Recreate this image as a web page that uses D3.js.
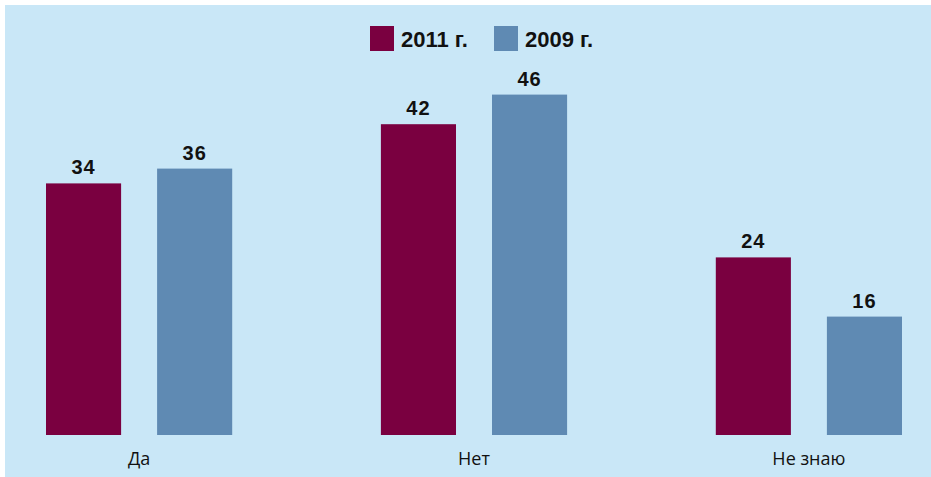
<!DOCTYPE html>
<html>
<head>
<meta charset="utf-8">
<script src="https://cdn.jsdelivr.net/npm/d3@7"></script>
<style>
  html, body { margin: 0; padding: 0; background: #fff; }
  svg { display: block; }
</style>
</head>
<body>
<div id="chart"></div>
<script>
// data
var categories = ["Да", "Нет", "Не знаю"];
var seriesNames = ["2011 г.", "2009 г."];
var values2011 = [34, 42, 24];
var values2009 = [36, 46, 16];
var colors = ["#7a0040", "#5f8ab3"];

var W = 931, H = 477;
var svg = d3.select("#chart").append("svg")
  .attr("width", W).attr("height", H);

svg.append("rect")
  .attr("x", 5).attr("y", 5)
  .attr("width", W - 5).attr("height", H - 5)
  .attr("fill", "#c9e7f7");

var rows = categories.map(function (c, i) {
  return { cat: c, vals: [values2011[i], values2009[i]] };
});

// scales
var x0 = d3.scaleBand().domain(categories)
  .range([46, 902]).paddingInner(0.444).paddingOuter(0);
var x1 = d3.scaleBand().domain([0, 1])
  .range([0, x0.bandwidth()]).paddingInner(0.324).paddingOuter(0);
var y = d3.scaleLinear().domain([0, 50]).range([435, 65]);

var groups = svg.selectAll("g.grp").data(rows).enter().append("g")
  .attr("class", "grp")
  .attr("transform", function (d) { return "translate(" + x0(d.cat) + ",0)"; });

groups.selectAll("rect").data(function (d) { return d.vals; }).enter().append("rect")
  .attr("x", function (d, i) { return x1(i); })
  .attr("y", function (d) { return y(d); })
  .attr("width", x1.bandwidth())
  .attr("height", function (d) { return y(0) - y(d); })
  .attr("fill", function (d, i) { return colors[i]; });

groups.selectAll("text.val").data(function (d) { return d.vals; }).enter().append("text")
  .attr("class", "val")
  .attr("x", function (d, i) { return x1(i) + x1.bandwidth() / 2; })
  .attr("y", function (d) { return y(d) - 9; })
  .attr("text-anchor", "middle")
  .style("font-family", "'Liberation Sans Narrow', 'Liberation Sans', Arial, sans-serif")
  .style("font-weight", "bold")
  .style("font-size", "20px")
  .style("letter-spacing", "1px")
  .style("fill", "#111")
  .text(function (d) { return d; });

// category labels
var xAxis = d3.axisBottom(x0).tickSize(0).tickPadding(0);
var xAxisG = svg.append("g")
  .attr("transform", "translate(0,449)")
  .call(xAxis);
xAxisG.select(".domain").remove();
xAxisG.selectAll("text")
  .attr("dy", "0.9em")
  .style("font-family", "'Open Sans', 'Noto Sans', sans-serif")
  .style("font-size", "18px")
  .style("fill", "#111");

// legend
var legendX = [370, 494];
var legend = svg.selectAll("g.leg").data(seriesNames).enter().append("g")
  .attr("class", "leg")
  .attr("transform", function (d, i) { return "translate(" + legendX[i] + ",26)"; });
legend.append("rect")
  .attr("width", 24).attr("height", 25)
  .attr("fill", function (d, i) { return colors[i]; });
legend.append("text")
  .attr("x", 31).attr("y", 21)
  .style("font-family", "'Liberation Sans Narrow', 'Liberation Sans', Arial, sans-serif")
  .style("font-weight", "bold")
  .style("font-size", "22px")
  .style("fill", "#111")
  .text(function (d) { return d; });
</script>
</body>
</html>
